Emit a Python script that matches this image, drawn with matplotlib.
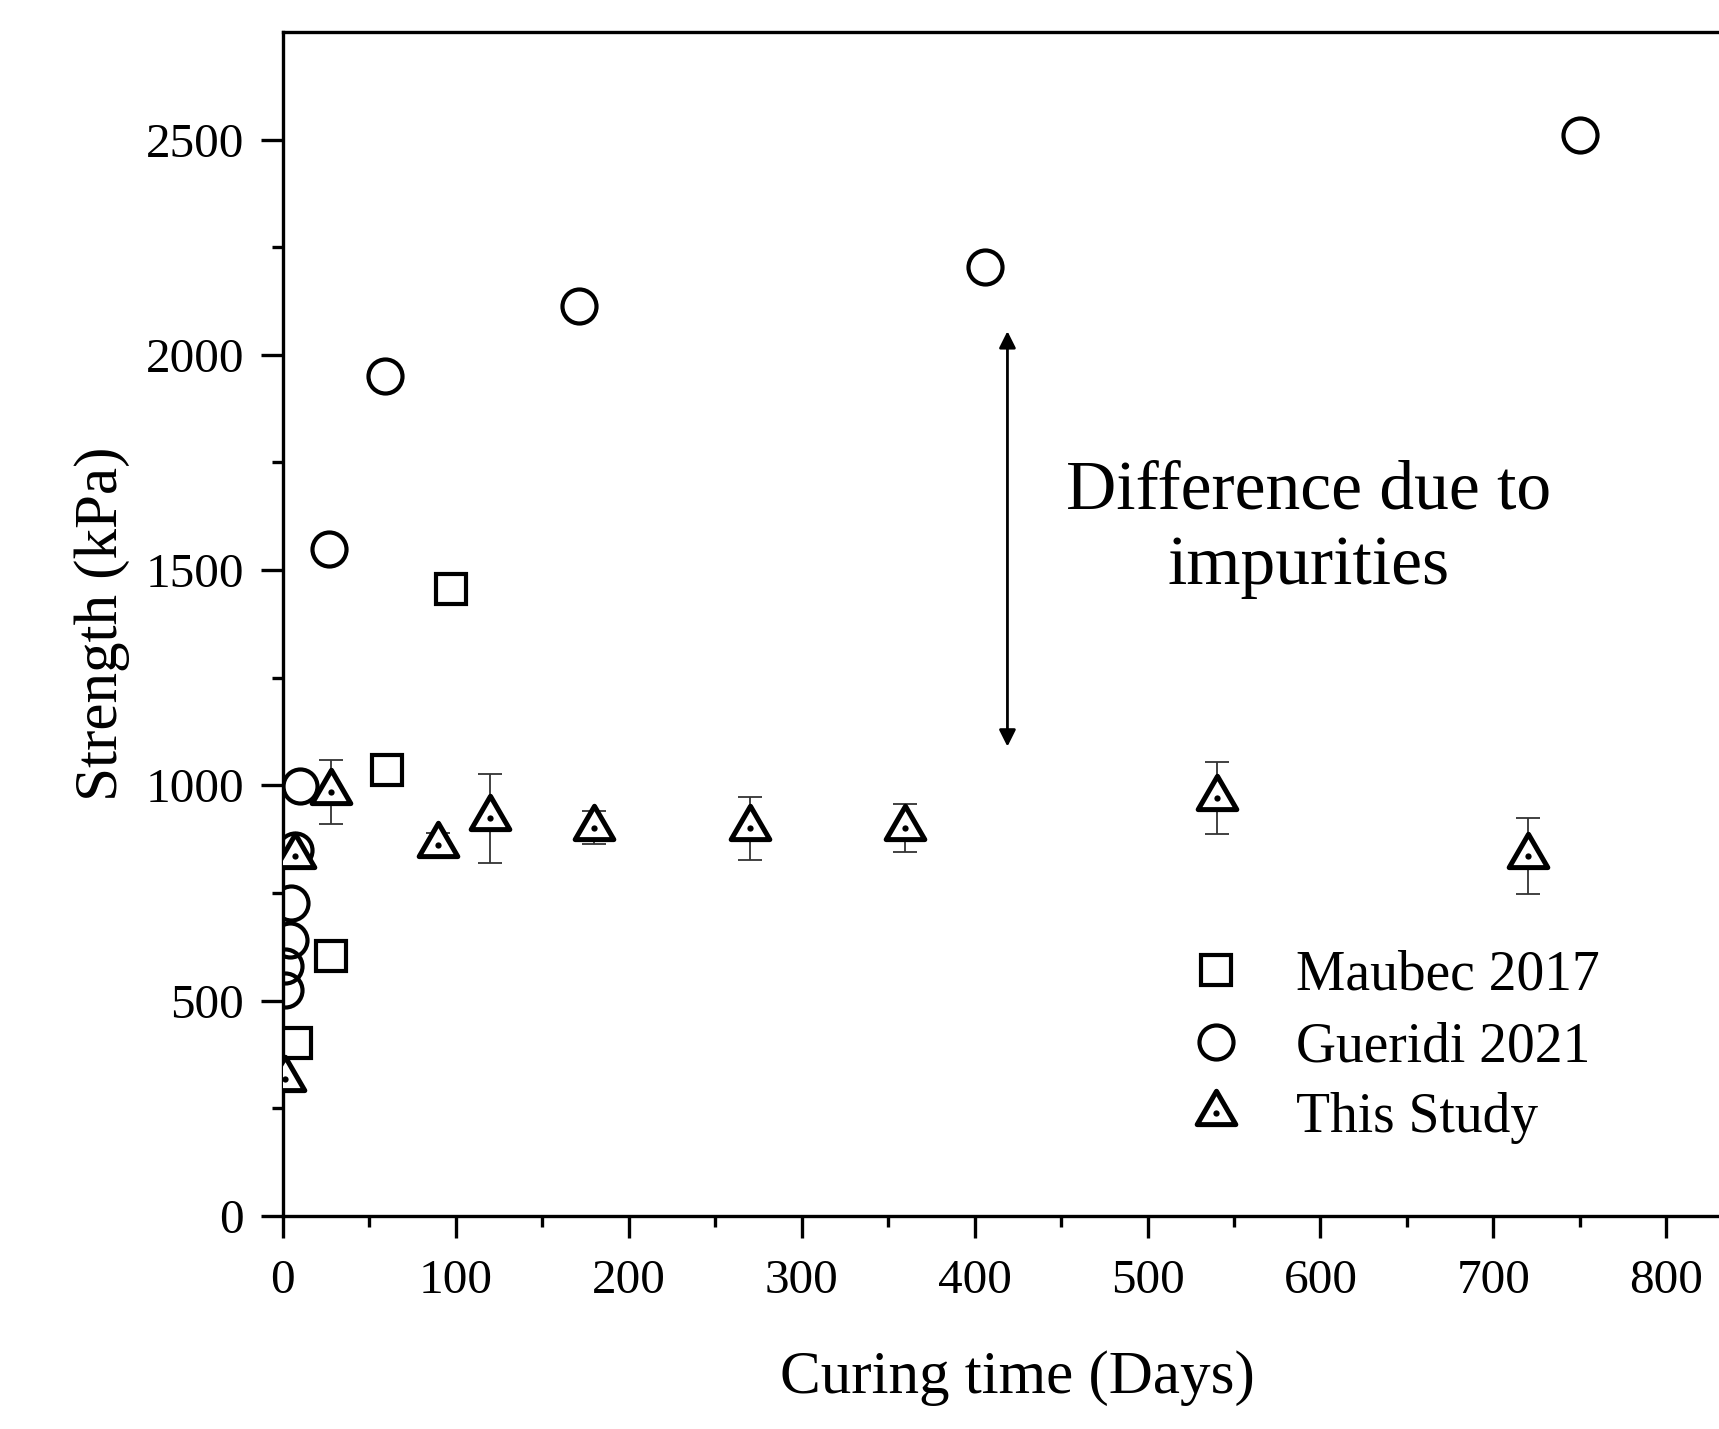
import numpy as np
import matplotlib.pyplot as plt
from matplotlib.path import Path
from matplotlib.legend_handler import HandlerTuple

plt.rcParams['font.family'] = ['Liberation Serif', 'DejaVu Serif']
plt.rcParams['mathtext.fontset'] = 'stix'

# Maubec 2017
maubec_days = [7.5, 28, 60, 97]
maubec_kpa = [402, 603, 1036, 1456]

# Gueridi 2021
gueridi_days = [1, 1, 4, 5, 7, 10, 27, 59, 171, 406, 750]
gueridi_kpa = [524, 580, 640, 727, 850, 998, 1550, 1950, 2113, 2205, 2510]

# This study (mean and error)
study_days = [1, 7, 28, 90, 120, 180, 270, 360, 540, 720]
study_kpa = [318, 836, 984, 862, 923, 902, 900, 901, 971, 836]
study_err = [0, 0, 75, 28, 104, 38, 73, 56, 84, 89]

x_ticks = [0, 100, 200, 300, 400, 500, 600, 700, 800]
y_ticks = [0, 500, 1000, 1500, 2000, 2500]

# triangle with centroid at origin
tri = Path([(0, 1.0), (-0.87, -0.5), (0.87, -0.5), (0, 1.0)],
           [Path.MOVETO, Path.LINETO, Path.LINETO, Path.CLOSEPOLY])

fig = plt.figure(figsize=(17.19, 14.29), dpi=100)
ax = fig.add_axes([0.1645, 0.1492, 0.8552, 0.8284])

h_sq, = ax.plot(maubec_days, maubec_kpa, ls='none', marker='s', ms=21, mfc='none',
                mec='black', mew=3.0, zorder=3)
h_ci, = ax.plot(gueridi_days, gueridi_kpa, ls='none', marker='o', ms=24.5, mfc='none',
                mec='black', mew=3.0, zorder=3)
ax.errorbar(study_days, study_kpa, yerr=study_err, fmt='none', ecolor='#333333',
            elinewidth=1.3, capsize=8.3, capthick=1.3, zorder=2)
h_tr, = ax.plot(study_days, study_kpa, ls='none', marker=tri, ms=32, mfc='white',
                mec='black', mew=3.6, zorder=4)
h_dot, = ax.plot(study_days, study_kpa, ls='none', marker='o', ms=4.5, mfc='black',
                 mec='black', mew=0, zorder=5)

ax.annotate('', xy=(419, 2055), xytext=(419, 1090),
            arrowprops=dict(arrowstyle='<|-|>', color='black', lw=2.0,
                            mutation_scale=25, shrinkA=0, shrinkB=0))
ax.text(593, 1594, 'Difference due to\nimpurities', ha='center', va='center',
        fontsize=50, linespacing=1.25)

ax.set_xlim(0, 850)
ax.set_ylim(0, 2750)
ax.set_xticks(x_ticks)
ax.set_yticks(y_ticks)
ax.set_xticks(np.arange(50, 850, 100), minor=True)
ax.set_yticks(np.arange(250, 2750, 500), minor=True)
ax.tick_params(which='major', direction='out', length=16, width=2.4, labelsize=35.5)
ax.tick_params(which='minor', direction='out', length=8, width=2.4)
ax.tick_params(axis='x', pad=15)
ax.tick_params(axis='y', pad=12)
for s in ax.spines.values():
    s.set_linewidth(2.4)
ax.spines['right'].set_visible(False)

ax.set_xlabel('Curing time (Days)', fontsize=44, labelpad=34)
ax.set_ylabel('Strength (kPa)', fontsize=44, labelpad=11)

ax.legend([h_sq, h_ci, (h_tr, h_dot)], ['Maubec 2017', 'Gueridi 2021', 'This Study'],
          handler_map={tuple: HandlerTuple(ndivide=1)},
          loc='lower right', bbox_to_anchor=(0.93, 0.018), frameon=False, fontsize=40,
          handlelength=1.2, handletextpad=0.85, labelspacing=0.35,
          markerscale=1.0)

fig.savefig('out.png', dpi=100)
